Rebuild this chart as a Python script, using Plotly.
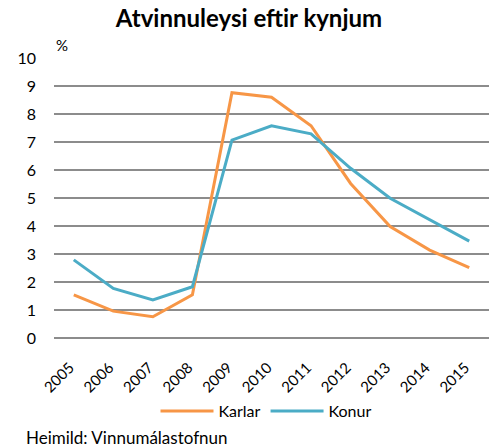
import plotly.graph_objects as go

years = ["2005", "2006", "2007", "2008", "2009", "2010", "2011", "2012", "2013", "2014", "2015"]
karlar = [1.54, 0.96, 0.76, 1.54, 8.76, 8.6, 7.58, 5.52, 3.98, 3.14, 2.51]
konur = [2.79, 1.77, 1.36, 1.83, 7.07, 7.58, 7.29, 6.06, 4.99, 4.21, 3.46]
y_ticks = [0, 1, 2, 3, 4, 5, 6, 7, 8, 9, 10]

FONT = "Lato"

fig = go.Figure()
fig.add_trace(go.Scatter(x=years, y=karlar, mode="lines", name="Karlar",
                         line=dict(color="#F79646", width=3)))
fig.add_trace(go.Scatter(x=years, y=konur, mode="lines", name="Konur",
                         line=dict(color="#4BACC6", width=3)))

fig.update_layout(
    width=498, height=448,
    margin=dict(l=54, r=9, t=58, b=110, autoexpand=False),
    paper_bgcolor="white", plot_bgcolor="white",
    font=dict(family=FONT, size=15, color="#000000"),
    title=dict(text="<b>Atvinnuleysi eftir kynjum</b>", x=249/498, xanchor="center",
               y=1 - 19/448, yanchor="middle", font=dict(size=24, family=FONT)),
    showlegend=True,
    legend=dict(orientation="h", x=(266-54)/435, xanchor="center", y=(338-411)/280,
                yanchor="middle", font=dict(size=16), itemwidth=53,
                bgcolor="rgba(0,0,0,0)"),
    xaxis=dict(type="category", range=[-0.5, len(years) - 0.5], tickangle=-45,
               showgrid=False, showline=False, automargin=False,
               ticks="outside", ticklen=14, tickcolor="rgba(0,0,0,0)",
               ticklabelshift=-4, tickfont=dict(size=15), zeroline=False),
    yaxis=dict(range=[0, 10], tickvals=y_ticks, showgrid=True, gridcolor="#8c8c8c",
               gridwidth=1.5, zeroline=True, zerolinecolor="#8c8c8c", zerolinewidth=1.5,
               showline=False, ticks="", ticklabelstandoff=17, automargin=False,
               tickfont=dict(size=16)),
)

fig.add_annotation(text="%", xref="paper", yref="paper", x=(62-54)/435, y=(338-45)/280,
                   showarrow=False, xanchor="center", yanchor="middle", font=dict(size=15))
fig.add_annotation(text="Heimild: Vinnumálastofnun", xref="paper", yref="paper",
                   x=(24-54)/435, y=(338-437)/280, showarrow=False, xanchor="left",
                   yanchor="middle", font=dict(size=17))

fig.write_html("out.html", config={"displayModeBar": False},
               post_script="document.body.style.margin='0';document.body.style.overflow='hidden';")
